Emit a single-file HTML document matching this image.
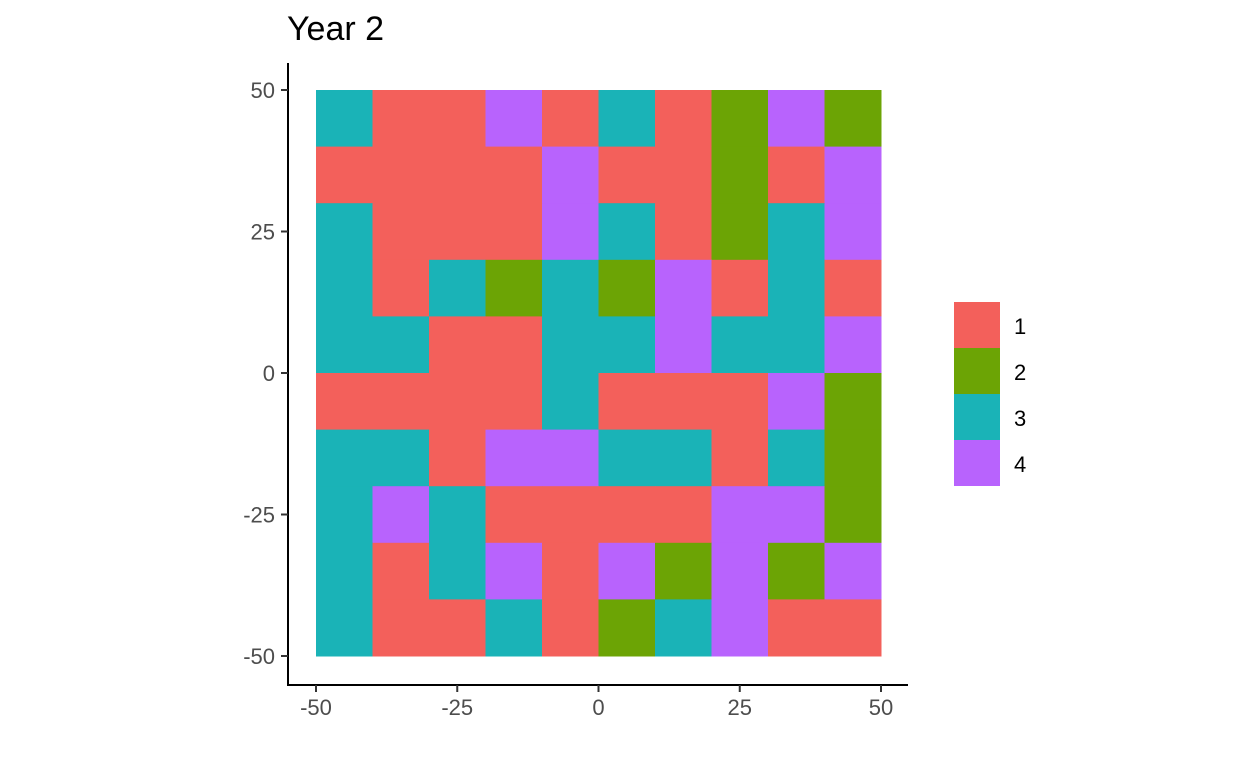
<!DOCTYPE html>
<html><head><meta charset="utf-8"><style>
body{margin:0;background:#fff;font-family:"Liberation Sans",Arial,sans-serif}
svg text{font-family:"Liberation Sans",Arial,sans-serif}
</style></head><body>
<svg id="chart" width="1248" height="768" xmlns="http://www.w3.org/2000/svg">
<text x="287" y="40" font-size="34" fill="#000">Year 2</text>
<g id="cells"></g>
<g id="axes"></g>
<g id="legend"></g>
</svg>
<script>
const xCenters=[-45,-35,-25,-15,-5,5,15,25,35,45];
const yCenters=[45,35,25,15,5,-5,-15,-25,-35,-45];
const gridValues=[
[3,1,1,4,1,3,1,2,4,2],
[1,1,1,1,4,1,1,2,1,4],
[3,1,1,1,4,3,1,2,3,4],
[3,1,3,2,3,2,4,1,3,1],
[3,3,1,1,3,3,4,3,3,4],
[1,1,1,1,3,1,1,1,4,2],
[3,3,1,4,4,3,3,1,3,2],
[3,4,3,1,1,1,1,4,4,2],
[3,1,3,4,1,4,2,4,2,4],
[3,1,1,3,1,2,3,4,1,1]];
const tickValues=[-50,-25,0,25,50];
const legendLabels=["1","2","3","4"];
const palette={1:"#F3605B",2:"#6CA405",3:"#1AB3B7",4:"#B863FD"};
const NS="http://www.w3.org/2000/svg";
const sx=v=>316+(v+50)*5.65, sy=v=>90+(50-v)*5.66;
function mk(t,a,p){const e=document.createElementNS(NS,t);for(const k in a)e.setAttribute(k,a[k]);p.appendChild(e);return e;}
const cells=document.getElementById('cells');
yCenters.forEach((yc,r)=>xCenters.forEach((xc,c)=>{
 const e=mk('rect',{x:sx(xc-5),y:sy(yc+5),width:sx(xc+5)-sx(xc-5)+0.5,height:sy(yc-5)-sy(yc+5)+0.5,fill:palette[gridValues[r][c]]},cells);
 
 
}));
const ax=document.getElementById('axes');
let l=mk('line',{x1:288,y1:63,x2:288,y2:686,stroke:"#000","stroke-width":2},ax);

l=mk('line',{x1:287,y1:685,x2:908,y2:685,stroke:"#000","stroke-width":2},ax);

tickValues.forEach(v=>{
 mk('line',{x1:281,x2:288,y1:sy(v),y2:sy(v),stroke:"#333","stroke-width":2},ax);
 let t=mk('text',{x:275,y:sy(v)+8,"text-anchor":"end","font-size":22,fill:"#4d4d4d"},ax);t.textContent=v;
 
 mk('line',{x1:sx(v),x2:sx(v),y1:685,y2:692,stroke:"#333","stroke-width":2},ax);
 t=mk('text',{x:sx(v),y:715,"text-anchor":"middle","font-size":22,fill:"#4d4d4d"},ax);t.textContent=v;
 
});
const lg=document.getElementById('legend');
legendLabels.forEach((lab,i)=>{
 const r=mk('rect',{x:954,y:302+i*46,width:46,height:46,fill:palette[i+1]},lg);
 
 const t=mk('text',{x:1014,y:334+i*46,"font-size":22,fill:"#000"},lg);t.textContent=lab;
 
});
</script>
</body></html>
